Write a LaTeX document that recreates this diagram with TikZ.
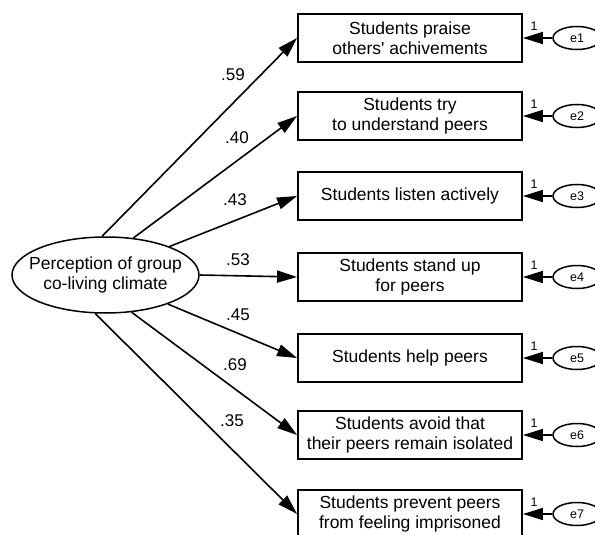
\documentclass[tikz,border=0pt]{standalone}
\usepackage{fontspec}
\setmainfont{Liberation Sans}
\usetikzlibrary{arrows.meta,shapes.geometric}
\begin{document}
\begin{tikzpicture}[x=1pt,y=-1pt,
  obs/.style={draw, line width=1.9pt, minimum width=224pt, minimum height=48pt, inner sep=0pt, align=center, font=\fontsize{17.5}{20}\selectfont},
  lat/.style={ellipse, draw, line width=1.5pt, minimum width=187pt, minimum height=76pt, inner sep=0pt},
  lattext/.style={inner sep=0pt, align=center, font=\fontsize{17.5}{20}\selectfont},
  err/.style={ellipse, draw, line width=1.5pt, minimum width=48pt, minimum height=23pt, inner sep=0pt, font=\fontsize{12.5}{14}\selectfont},
  lpath/.style={line width=1.6pt, -{Triangle[length=20pt,width=12pt]}},
  coef/.style={inner sep=0pt, font=\fontsize{17}{20}\selectfont},
  one/.style={inner sep=0pt, font=\fontsize{12.5}{14}\selectfont}]
\useasboundingbox (0,0) rectangle (595,535);
\clip (0,0) rectangle (595,535);

\node[lat] (L) at (105.5,275) {};
\node[lattext] (Lt) at (L.center) {Perception of group\\co-living climate};

\node[obs] (b1) at (410,38) {Students praise\\others\textquotesingle{} achivements};
\node[obs] (b2) at (410,116) {Students try\\to understand peers};
\node[obs] (b3) at (410,196) {Students listen actively};
\node[obs] (b4) at (410,277) {Students stand up\\for peers};
\node[obs] (b5) at (410,358) {Students help peers};
\node[obs] (b6) at (410,435) {Students avoid that\\their peers remain isolated};
\node[obs] (b7) at (410,514) {Students prevent peers\\from feeling imprisoned};

\foreach \i/\y in {1/38,2/116,3/196,4/277,5/358,6/435,7/514}{
  \node[err] (e\i) at (577,\y) {e\i};
  \draw[lpath] (e\i) -- (b\i.east);
  \node[one] at (534,\y-12) {1};
}

\draw[lpath] (L.95) -- (b1.west);
\draw[lpath] (L.53) -- (b2.west);
\draw[lpath] (L.24) -- (b3.west);
\draw[lpath] (L.east) -- (b4.west);
\draw[lpath] (L.-25) -- (b5.west);
\draw[lpath] (L.-55) -- (b6.west);
\draw[lpath] (L.-105) -- (b7.west);

\node[coef] at (233,75) {.59};
\node[coef] at (237,138) {.40};
\node[coef] at (235,200) {.43};
\node[coef] at (238,260) {.53};
\node[coef] at (238,315) {.45};
\node[coef] at (235,365) {.69};
\node[coef] at (232,421) {.35};
\end{tikzpicture}
\end{document}
